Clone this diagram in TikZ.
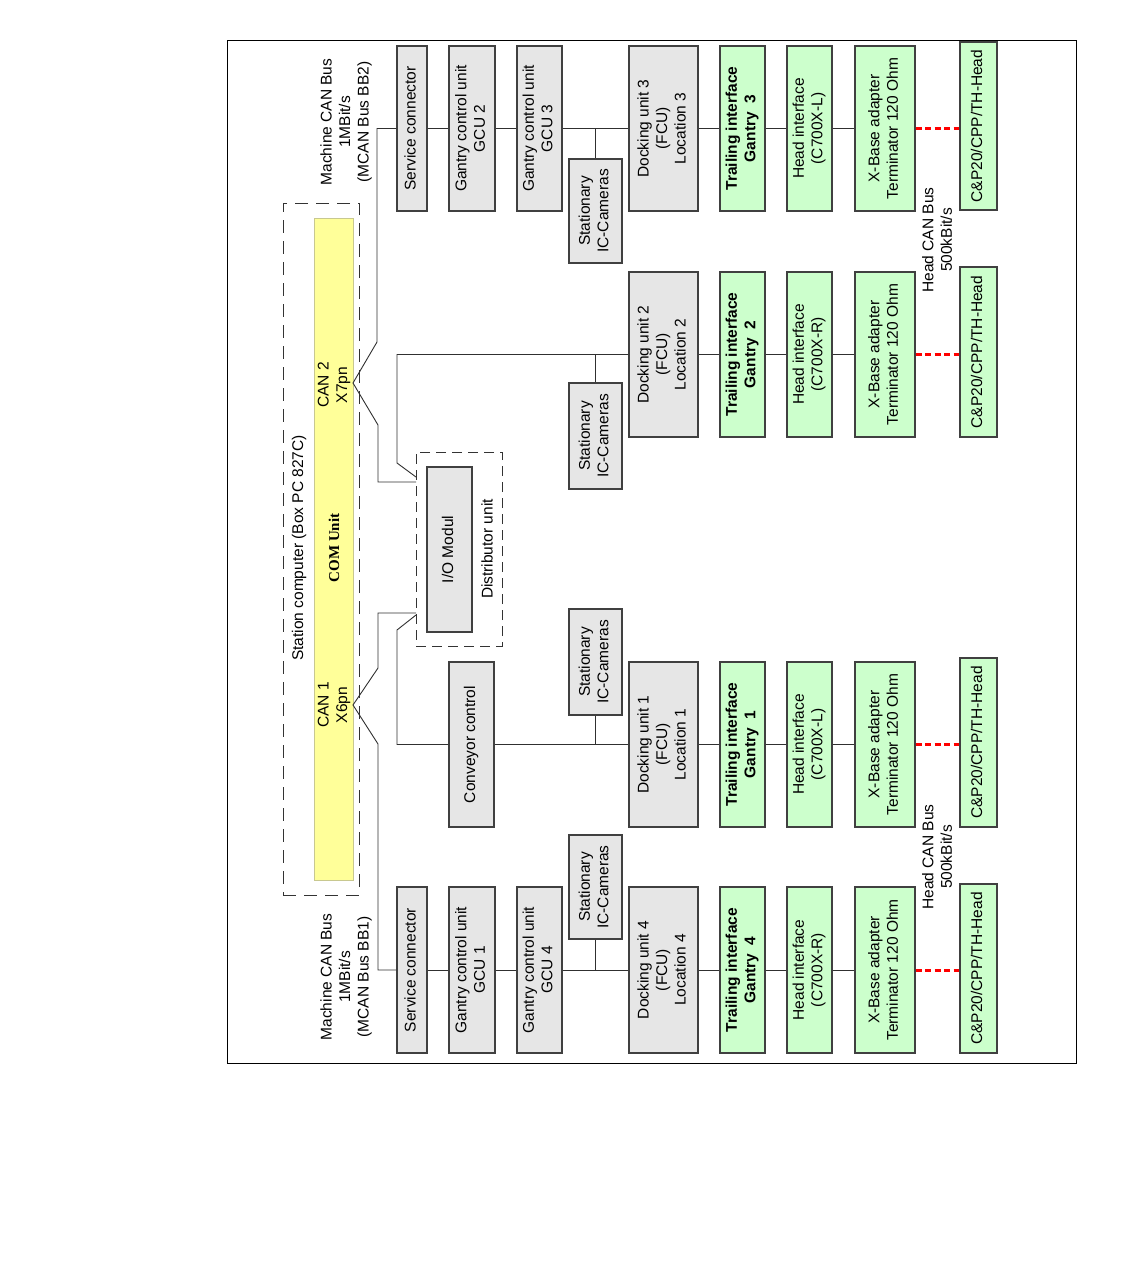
\documentclass[tikz,border=0pt]{standalone}
\usepackage{fontspec}
\setmainfont{Liberation Sans}
\newfontfamily\timesfont{Liberation Serif}
\definecolor{grayf}{HTML}{E6E6E6}
\definecolor{greenf}{HTML}{CCFFCC}
\definecolor{boxline}{HTML}{404040}
\definecolor{connc}{HTML}{303030}
\definecolor{yelf}{HTML}{FFFF99}
\definecolor{yell}{HTML}{C8C890}
\newcommand\rt[1]{\rotatebox{90}{\begin{tabular}{@{}c@{}}#1\end{tabular}}}
\newcommand\fs{\fontsize{15.5}{18.5}\selectfont}
\tikzset{
  basebox/.style={draw=boxline, line width=1.2pt, inner sep=0pt, font=\fs},
  gbox/.style={basebox, fill=grayf},
  nbox/.style={basebox, fill=greenf},
  conn/.style={draw=connc, line width=0.9pt},
  reddot/.style={draw=red, line width=3pt, dash pattern=on 6pt off 3.5pt},
  rtxt/.style={rotate=90, align=center, font=\fs, inner sep=0pt},
}
\begin{document}
\begin{tikzpicture}[x=1pt,y=-1pt]
\useasboundingbox (0,0) rectangle (1134,1271);
\draw[line width=1pt] (227,41) rectangle (1076,1063);

% station computer
\node[draw=black!80, line width=1pt, dash pattern=on 13pt off 8pt, minimum width=76pt, minimum height=692pt] (stat) at (321,549) {};
\node[draw=yell, fill=yelf, line width=1pt, minimum width=39pt, minimum height=662pt] (yel) at (333.5,549) {};
\node[rtxt] (stattxt) at (299,548) {Station computer (Box PC 827C)};
\node[rotate=90, inner sep=0pt, font=\timesfont\bfseries\fontsize{15}{18}\selectfont] (com) at (334,548) {COM Unit};
\node[rtxt] (can2) at (334,385) {CAN 2\\X7pn};
\node[rtxt] (can1) at (334,705) {CAN 1\\X6pn};

% distributor
\node[draw=black!80, line width=1pt, dash pattern=on 10pt off 6pt, minimum width=86pt, minimum height=194pt] (dist) at (459,549) {};
\node[gbox, minimum width=45pt, minimum height=165pt] (io) at (449.5,549.5) {\rt{I/O Modul}};
\node[rtxt] (disttxt) at (487,549) {Distributor unit};

% bus labels
\node[rtxt] (mcan2) at (346,122) {Machine CAN Bus\\1MBit/s\\(MCAN Bus BB2)};
\node[rtxt] (mcan1) at (346,977) {Machine CAN Bus\\1MBit/s\\(MCAN Bus BB1)};
\node[rtxt] (hcan3) at (937,240) {Head CAN Bus\\500kBit/s};
\node[rtxt] (hcan1) at (937,857) {Head CAN Bus\\500kBit/s};

% row 1 (top)
\node[gbox, minimum width=30pt, minimum height=165pt] (sc2) at (412,128.5) {\rt{Service connector}};
\node[gbox, minimum width=46pt, minimum height=165pt] (gcu2) at (472,128.5) {\rt{Gantry control unit\\GCU 2}};
\node[gbox, minimum width=45pt, minimum height=165pt] (gcu3) at (539.5,128.5) {\rt{Gantry control unit\\GCU 3}};
\node[gbox, minimum width=53pt, minimum height=104pt] (cam3) at (595.5,211) {\rt{Stationary\\IC-Cameras}};
\node[gbox, minimum width=69pt, minimum height=165pt] (dock3) at (663.5,128.5) {\rt{Docking unit 3\\(FCU)\\Location 3}};
\node[nbox, minimum width=45pt, minimum height=165pt] (tr3) at (742.5,128.5) {\rt{\bfseries Trailing interface\\\bfseries Gantry\ \ 3}};
\node[nbox, minimum width=45pt, minimum height=165pt] (hd3) at (809.5,128.5) {\rt{Head interface\\(C700X-L)}};
\node[nbox, minimum width=60pt, minimum height=165pt] (xb3) at (885,128.5) {\rt{X-Base adapter\\Terminator 120 Ohm}};
\node[nbox, minimum width=37pt, minimum height=168pt] (cp3) at (978.5,126) {\rt{C\&P20/CPP/TH-Head}};

% row 2
\node[gbox, minimum width=53pt, minimum height=106pt] (cam2) at (595.5,436) {\rt{Stationary\\IC-Cameras}};
\node[gbox, minimum width=69pt, minimum height=165pt] (dock2) at (663.5,354.5) {\rt{Docking unit 2\\(FCU)\\Location 2}};
\node[nbox, minimum width=45pt, minimum height=165pt] (tr2) at (742.5,354.5) {\rt{\bfseries Trailing interface\\\bfseries Gantry\ \ 2}};
\node[nbox, minimum width=45pt, minimum height=165pt] (hd2) at (809.5,354.5) {\rt{Head interface\\(C700X-R)}};
\node[nbox, minimum width=60pt, minimum height=165pt] (xb2) at (885,354.5) {\rt{X-Base adapter\\Terminator 120 Ohm}};
\node[nbox, minimum width=37pt, minimum height=170pt] (cp2) at (978.5,352) {\rt{C\&P20/CPP/TH-Head}};

% row 3
\node[gbox, minimum width=45pt, minimum height=165pt] (conv) at (471.5,744.5) {\rt{Conveyor control}};
\node[gbox, minimum width=53pt, minimum height=106pt] (cam1) at (595.5,662) {\rt{Stationary\\IC-Cameras}};
\node[gbox, minimum width=69pt, minimum height=165pt] (dock1) at (663.5,744.5) {\rt{Docking unit 1\\(FCU)\\Location 1}};
\node[nbox, minimum width=45pt, minimum height=165pt] (tr1) at (742.5,744.5) {\rt{\bfseries Trailing interface\\\bfseries Gantry\ \ 1}};
\node[nbox, minimum width=45pt, minimum height=165pt] (hd1) at (809.5,744.5) {\rt{Head interface\\(C700X-L)}};
\node[nbox, minimum width=60pt, minimum height=165pt] (xb1) at (885,744.5) {\rt{X-Base adapter\\Terminator 120 Ohm}};
\node[nbox, minimum width=37pt, minimum height=169pt] (cp1) at (978.5,742.5) {\rt{C\&P20/CPP/TH-Head}};

% row 4
\node[gbox, minimum width=30pt, minimum height=166pt] (sc1) at (412,970) {\rt{Service connector}};
\node[gbox, minimum width=46pt, minimum height=166pt] (gcu1) at (472,970) {\rt{Gantry control unit\\GCU 1}};
\node[gbox, minimum width=45pt, minimum height=166pt] (gcu4) at (539.5,970) {\rt{Gantry control unit\\GCU 4}};
\node[gbox, minimum width=53pt, minimum height=104pt] (cam4) at (595.5,887) {\rt{Stationary\\IC-Cameras}};
\node[gbox, minimum width=69pt, minimum height=166pt] (dock4) at (663.5,970) {\rt{Docking unit 4\\(FCU)\\Location 4}};
\node[nbox, minimum width=45pt, minimum height=166pt] (tr4) at (742.5,970) {\rt{\bfseries Trailing interface\\\bfseries Gantry\ \ 4}};
\node[nbox, minimum width=45pt, minimum height=166pt] (hd4) at (809.5,970) {\rt{Head interface\\(C700X-R)}};
\node[nbox, minimum width=60pt, minimum height=166pt] (xb4) at (885,970) {\rt{X-Base adapter\\Terminator 120 Ohm}};
\node[nbox, minimum width=37pt, minimum height=169pt] (cp4) at (978.5,968.5) {\rt{C\&P20/CPP/TH-Head}};

% connector coordinates
\coordinate (b2top) at (377,128.5);
\coordinate (b2a) at (377,342);
\coordinate (tip2) at (353,383);
\coordinate (b2b) at (378,425);
\coordinate (b2c) at (378,482);
\coordinate (d2in) at (416,482);
\coordinate (d2out) at (416,477);
\coordinate (k2) at (397,463);
\coordinate (tip1) at (353,705);
\coordinate (b1a) at (378,668);
\coordinate (b1b) at (378,613);
\coordinate (d1in) at (416,613);
\coordinate (d1out) at (416,615);
\coordinate (k1) at (397,630);
\coordinate (b1c) at (378,744);

% CAN 2 connections
\draw[conn] (sc2.west) -- (b2top) -- (b2a) -- (tip2) -- (b2b) -- (b2c) -- (d2in);
\draw[conn] (d2out) -- (k2) |- (dock2.west);
\draw[conn] (cam2.north) -- (cam2.north |- dock2.west);
% CAN 1 connections
\draw[conn] (d1in) -- (b1b) -- (b1a) -- (tip1) -- (b1c) |- (sc1.west);
\draw[conn] (d1out) -- (k1) |- (conv.west);
\draw[conn] (conv.east) -- (dock1.west);
\draw[conn] (cam1.south) -- (cam1.south |- conv.east);

% row buses
\draw[conn] (sc2) -- (gcu2) -- (gcu3) -- (dock3) -- (tr3) -- (hd3) -- (xb3);
\draw[conn] (cam3.north) -- (cam3.north |- gcu3.east);
\draw[conn] (dock2) -- (tr2) -- (hd2) -- (xb2);
\draw[conn] (dock1) -- (tr1) -- (hd1) -- (xb1);
\draw[conn] (sc1) -- (gcu1) -- (gcu4) -- (dock4) -- (tr4) -- (hd4) -- (xb4);
\draw[conn] (cam4.south) -- (cam4.south |- gcu4.east);

% head CAN bus (red dotted)
\draw[reddot] (xb3.east) -- (xb3.east -| cp3.west);
\draw[reddot] (xb2.east) -- (xb2.east -| cp2.west);
\draw[reddot] (xb1.east) -- (xb1.east -| cp1.west);
\draw[reddot] (xb4.east) -- (xb4.east -| cp4.west);
\end{tikzpicture}
\end{document}
